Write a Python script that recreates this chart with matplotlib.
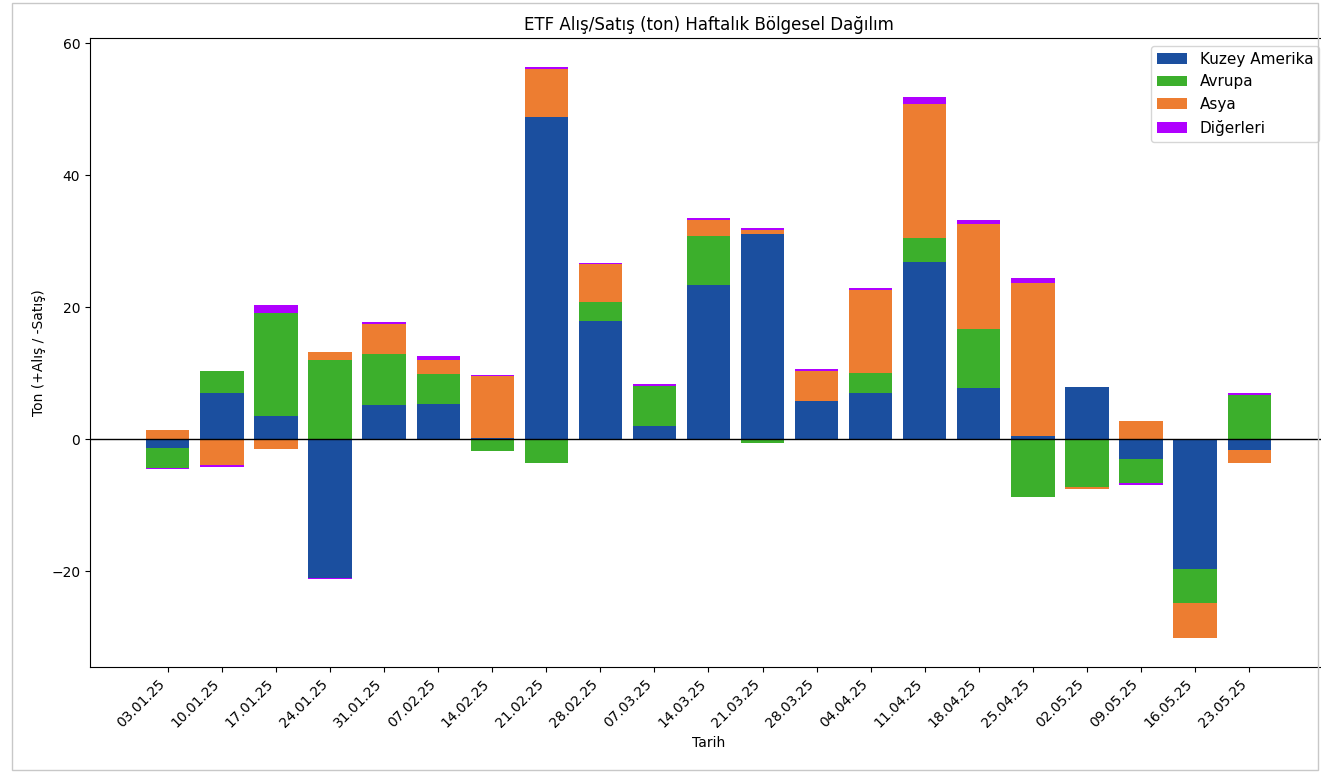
import numpy as np
import matplotlib.pyplot as plt
from matplotlib.patches import Rectangle

# Haftalık ETF alış/satış verisi (ton)
tarihler = ['03.01.25', '10.01.25', '17.01.25', '24.01.25', '31.01.25', '07.02.25', '14.02.25',
            '21.02.25', '28.02.25', '07.03.25', '14.03.25', '21.03.25', '28.03.25', '04.04.25',
            '11.04.25', '18.04.25', '25.04.25', '02.05.25', '09.05.25', '16.05.25', '23.05.25']

kuzey_amerika = [-1.3, 7.0, 3.5, -21.0, 5.2, 5.4, 0.2, 48.9, 18.0, 2.1, 23.4,
                 31.2, 5.9, 7.1, 26.9, 7.8, 0.55, 7.9, -3.0, -19.7, -1.6]
avrupa = [-3.1, 3.3, 15.7, 12.0, 7.8, 4.5, -1.7, -3.5, 2.9, 5.95, 7.4,
          -0.5, 0.0, 3.0, 3.7, 8.9, -8.7, -7.2, -3.6, -5.05, 6.7]
asya = [1.5, -3.9, -1.5, 1.3, 4.5, 2.2, 9.4, 7.2, 5.65, 0.0, 2.4,
        0.5, 4.5, 12.5, 20.2, 15.9, 23.2, -0.3, 2.8, -5.4, -1.9]
digerleri = [-0.15, -0.3, 1.2, -0.1, 0.35, 0.5, 0.2, 0.4, 0.25, 0.35, 0.35,
             0.35, 0.2, 0.3, 1.05, 0.65, 0.7, 0.0, -0.3, 0.0, 0.3]

bolgeler = ['Kuzey Amerika', 'Avrupa', 'Asya', 'Diğerleri']
renkler = ['#1b4f9f', '#3caf2c', '#ed7d31', '#b000ff']

fig = plt.figure(figsize=(13.21, 7.72), dpi=100)
ax = fig.add_axes([90 / 1321, 105 / 772, 1237 / 1321, 629 / 772])

x = np.arange(len(tarihler))
pos_alt = np.zeros(len(tarihler))
neg_alt = np.zeros(len(tarihler))

# pozitif ve negatif değerler ayrı ayrı yığılıyor
for seri, ad, renk in zip([kuzey_amerika, avrupa, asya, digerleri], bolgeler, renkler):
    deger = np.array(seri)
    alt = np.where(deger >= 0, pos_alt, neg_alt)
    ax.bar(x, deger, bottom=alt, color=renk, label=ad, width=0.8)
    pos_alt += np.clip(deger, 0, None)
    neg_alt += np.clip(deger, None, 0)

ax.axhline(0, color='black', linewidth=1)

ax.set_xticks(x)
ax.set_xticklabels(tarihler, rotation=45, ha='right')
ax.set_title("ETF Alış/Satış (ton) Haftalık Bölgesel Dağılım", fontsize=12)
ax.set_xlabel("Tarih")
ax.set_ylabel("Ton (+Alış / -Satış)")
ax.set_yticks([-20, 0, 20, 40, 60])
ax.legend(loc='upper right', fontsize=11)

# ekran görüntüsündeki ince gri çerçeve
fig.patches.append(Rectangle((12 / 1321, 2 / 772), 1306 / 1321, 767 / 772, transform=fig.transFigure,
                             fill=False, edgecolor='#c8c8c8', linewidth=1))

plt.savefig('out.png', dpi=100)
